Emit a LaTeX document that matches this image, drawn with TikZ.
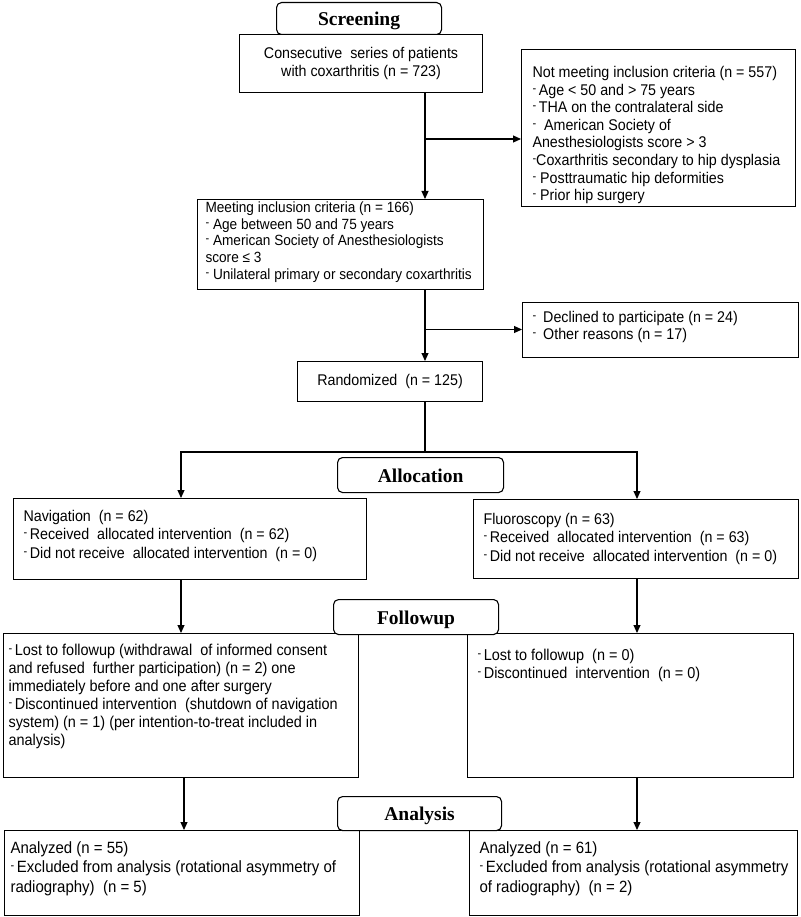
\documentclass[tikz,border=0pt]{standalone}
\usepackage{fontspec}
\setmainfont[FakeStretch=0.92]{Liberation Sans}
\newfontfamily\headfont{Liberation Serif}
\usetikzlibrary{arrows.meta,calc}
\newcommand{\fs}[2]{\fontsize{#1}{#2}\selectfont}
\newcommand{\dsh}{\raisebox{3pt}{\fs{12}{12}-}}
% #1 width, #2 height, #3 first baseline, #4 left pad, #5 font, #6 text
\newcommand{\tbox}[6]{\parbox[c][#2][t]{#1}{#5\raggedright\leftskip=#4\relax\rule{0pt}{#3}#6}}
\begin{document}
\begin{tikzpicture}[x=1pt,y=-1pt,
  box/.style={draw=black, line width=1.1pt, inner sep=0pt, anchor=north west, fill=white},
  cbox/.style={draw=black, line width=1.1pt, inner sep=0pt, anchor=north west, fill=white, align=center, font=\fs{15.5}{18}},
  head/.style={draw=black, line width=1.1pt, rounded corners=5pt, inner sep=0pt, anchor=north west, fill=white,
     font=\headfont\bfseries\fs{19.5}{22}, text height=14pt, text depth=0pt},
  ln/.style={line width=1.1pt},
  arr/.style={line width=1.1pt, -{Triangle[length=8pt,width=7pt]}}]
\fill[white] (0,0) rectangle (800,917);
\useasboundingbox (0,0) rectangle (800,917);

% Screening
\node[head, minimum width=165pt, minimum height=32pt] (screen) at (276,2) {Screening};
\node[cbox, minimum width=243pt, minimum height=58pt] (cons) at (239,34)
  {Consecutive\ \ series of patients\\with coxarthritis (n = 723)};
\node[box] (notm) at (521,49) {\tbox{274pt}{157pt}{28pt}{11pt}{\fs{15.5}{17.6}}{%
  Not meeting inclusion criteria (n = 557)\\
  \dsh\,Age < 50 and > 75 years\\
  \dsh\,THA on the contralateral side\\
  \dsh\ \ American Society of\\
  Anesthesiologists score > 3\\
  \dsh Coxarthritis secondary to hip dysplasia\\
  \dsh\ Posttraumatic hip deformities\\
  \dsh\ Prior hip surgery}};
\node[box] (meet) at (197,199) {\tbox{286pt}{90pt}{13pt}{8pt}{\fs{14.8}{16.7}}{%
  Meeting inclusion criteria (n = 166)\\
  \dsh\ Age between 50 and 75 years\\
  \dsh\ American Society of Anesthesiologists\\
  score ≤ 3\\
  \dsh\ Unilateral primary or secondary coxarthritis}};
\node[box] (decl) at (522,302) {\tbox{276pt}{55pt}{20pt}{10pt}{\fs{15.5}{16.5}}{%
  \dsh\hspace{7pt}Declined to participate (n = 24)\\
  \dsh\hspace{7pt}Other reasons (n = 17)}};
\node[cbox, minimum width=185pt, minimum height=40pt] (rand) at (297,361) {Randomized\ \ (n = 125)};

% Allocation
\node[head, minimum width=166pt, minimum height=35pt] (alloc) at (337,457) {Allocation};
\node[box] (nav) at (13,498) {\tbox{353pt}{81pt}{23pt}{10pt}{\fs{15.5}{18.3}}{%
  Navigation\ \ (n = 62)\\
  \dsh\,Received\ \ allocated intervention\ \ (n = 62)\\
  \dsh\,Did not receive\ \ allocated intervention\ \ (n = 0)}};
\node[box] (flu) at (473,499) {\tbox{325pt}{79pt}{25pt}{10pt}{\fs{15.5}{18.4}}{%
  Fluoroscopy (n = 63)\\
  \dsh\,Received\ \ allocated intervention\ \ (n = 63)\\
  \dsh\,Did not receive\ \ allocated intervention\ \ (n = 0)}};

% Followup
\node[box] (lf) at (3,633) {\tbox{355pt}{144pt}{22pt}{5pt}{\fs{15.7}{18}}{%
  \dsh\,Lost to followup (withdrawal\ \ of informed consent\\
  and refused\ \ further participation) (n = 2) one\\
  immediately before and one after surgery\\
  \dsh\,Discontinued intervention\ \ (shutdown of navigation\\
  system) (n = 1) (per intention-to-treat included in\\
  analysis)}};
\node[box] (rf) at (467,633) {\tbox{326pt}{144pt}{27pt}{10pt}{\fs{15.7}{18}}{%
  \dsh\,Lost to followup\ \ (n = 0)\\
  \dsh\,Discontinued\ \ intervention\ \ (n = 0)}};
\node[head, minimum width=165pt, minimum height=35pt] (fol) at (333,599) {Followup};

% Analysis
\node[box] (la) at (4,830) {\tbox{355pt}{85pt}{23pt}{6pt}{\fs{16.3}{19.3}}{%
  Analyzed (n = 55)\\
  \dsh\,Excluded from analysis (rotational asymmetry of\\
  radiography)\ \ (n = 5)}};
\node[box] (ra) at (469,830) {\tbox{328pt}{85pt}{23pt}{10pt}{\fs{16.3}{19.3}}{%
  Analyzed (n = 61)\\
  \dsh\,Excluded from analysis (rotational asymmetry\\
  of radiography)\ \ (n = 2)}};
\node[head, minimum width=164pt, minimum height=34pt] (ana) at (337,796) {Analysis};

% connectors
\coordinate (j1) at (425,139);
\coordinate (j2) at (425,329.5);
\coordinate (j3) at (425,452);
\coordinate (sl) at (181,452);
\coordinate (sr) at (637,452);
\coordinate (bl) at (184,800);
\coordinate (br) at (637,800);
\draw[arr] (cons.south -| j1) -- (meet.north -| j1);
\draw[arr] (j1) -- (notm.west |- j1);
\draw[arr] (meet.south -| j2) -- (rand.north -| j2);
\draw[arr] (j2) -- (decl.west |- j2);
\draw[ln] (rand.south -| j3) -- (j3);
\draw[arr] (j3) -- (sl) -- (nav.north -| sl);
\draw[arr] (j3) -- (sr) -- (flu.north -| sr);
\draw[arr] (nav.south -| sl) -- (lf.north -| sl);
\draw[arr] (flu.south -| sr) -- (rf.north -| sr);
\draw[arr] (lf.south -| bl) -- (la.north -| bl);
\draw[arr] (rf.south -| br) -- (ra.north -| br);
\end{tikzpicture}
\end{document}
